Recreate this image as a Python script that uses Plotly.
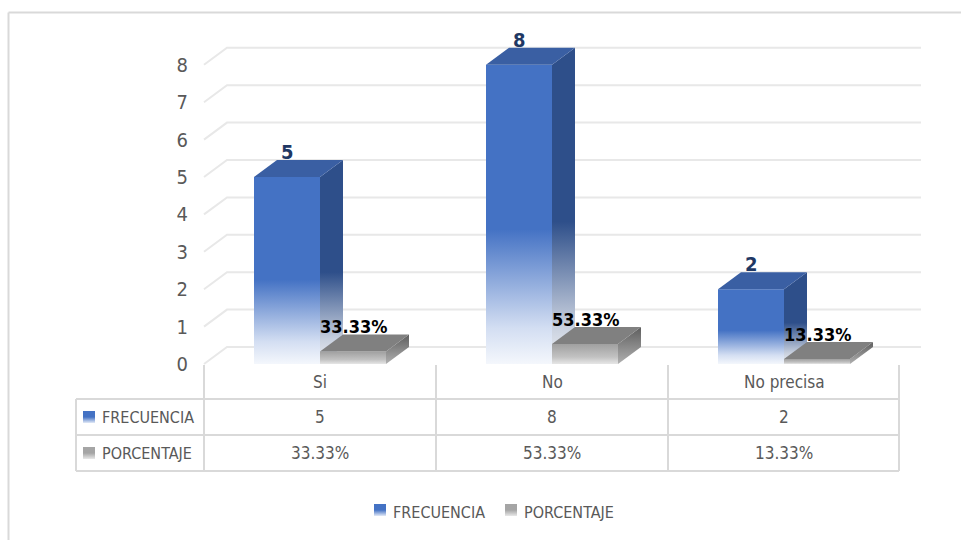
import plotly.graph_objects as go

# ---- data -------------------------------------------------------------
categorias = ["Si", "No", "No precisa"]
frecuencia = [5, 8, 2]
porcentaje = [0.3333, 0.5333, 0.1333]
porcentaje_txt = ["33.33%", "53.33%", "13.33%"]
series = ["FRECUENCIA", "PORCENTAJE"]
y_ticks = [0, 1, 2, 3, 4, 5, 6, 7, 8]

# ---- geometry ---------------------------------------------------------
W, H = 961, 540
X0_PX, CAT_PX = 204, 232      # left edge of the first category, category width (px)
Y0_PX, UNIT_PX = 364, 37.4    # baseline and pixels per unit on the front plane


def xd(px):
    return (px - X0_PX) / CAT_PX - 0.5


def yd(py):
    return (Y0_PX - py) / UNIT_PX


DX = 23 / CAT_PX      # depth offset of the 3-D box along x
DY = 17 / UNIT_PX     # depth offset of the 3-D box along y
BAR_W = 66 / CAT_PX   # width of one column

FONT = "Liberation Sans Narrow, DejaVu Sans Condensed, Arial Narrow, sans-serif"
GRID = "#e8e8e8"
TABLE = "#d9d9d9"
TXT = "#595959"

BLUE_FRONT = [[0, "#f4f7fc"], [0.12, "#d3def2"], [0.45, "#4472c4"], [1, "#4472c4"]]
BLUE_SIDE = [[0, "#f0f2f6"], [0.12, "#c8d0de"], [0.45, "#2e4f8a"], [1, "#2e4f8a"]]
BLUE_TOP = "#3a5fa3"
GRAY_FRONT = [[0, "#e6e6e6"], [0.35, "#c2c2c2"], [1, "#a0a0a0"]]
GRAY_SIDE = [[0, "#b0b0b0"], [1, "#5e5e5e"]]
GRAY_TOP = "#808080"

fig = go.Figure()


def poly(xs, ys, color=None, scale=None, lo=0.0, hi=1.0):
    tr = go.Scatter(
        x=list(xs) + [xs[0]], y=list(ys) + [ys[0]],
        mode="lines", fill="toself", line=dict(width=0),
        hoverinfo="skip", showlegend=False,
    )
    if scale is not None:
        tr.fillgradient = dict(type="vertical", colorscale=scale, start=lo, stop=hi)
    else:
        tr.fillcolor = color
    fig.add_trace(tr)


def box(x0, x1, v, front, side, top):
    poly([x1, x1 + DX, x1 + DX, x1], [0, DY, v + DY, v], scale=side, lo=0, hi=v + DY)
    poly([x0, x1, x1, x0], [0, 0, v, v], scale=front, lo=0, hi=v)
    poly([x0, x1, x1 + DX, x0 + DX], [v, v, v + DY, v + DY], color=top)


# ---- back wall gridlines and left wall ------------------------------
x_left = -0.5
x_right = xd(921)
for t in y_ticks:
    fig.add_trace(go.Scatter(
        x=[x_left, x_left + DX, x_right], y=[t, t + DY, t + DY],
        mode="lines", line=dict(color=GRID, width=2),
        hoverinfo="skip", showlegend=False,
    ))

# ---- columns ---------------------------------------------------------
for i, cat in enumerate(categorias):
    box(i - BAR_W, i, frecuencia[i], BLUE_FRONT, BLUE_SIDE, BLUE_TOP)
    box(i, i + BAR_W, porcentaje[i], GRAY_FRONT, GRAY_SIDE, GRAY_TOP)

# ---- data labels -----------------------------------------------------
for i, cat in enumerate(categorias):
    fig.add_annotation(
        x=i - BAR_W / 2, y=frecuencia[i] + DY, yshift=8,
        text=f"<b>{frecuencia[i]}</b>", showarrow=False, yanchor="middle",
        font=dict(family=FONT, size=20, color="#1f3864"),
    )
    fig.add_annotation(
        x=i + BAR_W / 2, y=porcentaje[i] + DY, yshift=8,
        text=f"<b>{porcentaje_txt[i]}</b>", showarrow=False, yanchor="middle",
        font=dict(family=FONT, size=18, color="#000000"),
    )

# ---- data table ------------------------------------------------------
t_top, r1, r2, t_bot = yd(365), yd(399), yd(435), yd(471)
t_left = xd(76)
col_edges = [xd(204), xd(436), xd(668), xd(899)]
line = dict(color=TABLE, width=2)
for xe in col_edges:
    fig.add_shape(type="line", x0=xe, x1=xe, y0=t_top, y1=t_bot, xref="x", yref="y", line=line)
fig.add_shape(type="line", x0=t_left, x1=t_left, y0=r1, y1=t_bot, xref="x", yref="y", line=line)
for ye in (r1, r2, t_bot):
    fig.add_shape(type="line", x0=t_left, x1=col_edges[-1], y0=ye, y1=ye, xref="x", yref="y", line=line)

cell_font = dict(family=FONT, size=17, color=TXT)
for i, cat in enumerate(categorias):
    fig.add_annotation(x=i, y=(t_top + r1) / 2, text=cat, showarrow=False, font=cell_font)
    fig.add_annotation(x=i, y=(r1 + r2) / 2, text=str(frecuencia[i]), showarrow=False, font=cell_font)
    fig.add_annotation(x=i, y=(r2 + t_bot) / 2, text=porcentaje_txt[i], showarrow=False, font=cell_font)


def key(px, py, scale):
    x0, x1 = xd(px), xd(px + 12)
    y0, y1 = yd(py + 12), yd(py)
    poly([x0, x1, x1, x0], [y0, y0, y1, y1], scale=scale, lo=y0, hi=y1)


KEY_BLUE = [[0, "#e3eaf7"], [0.5, "#4472c4"], [1, "#4472c4"]]
KEY_GRAY = [[0, "#e8e8e8"], [0.5, "#a5a5a5"], [1, "#a5a5a5"]]

row_font = dict(family=FONT, size=16, color=TXT)
key(83, 411, KEY_BLUE)
key(83, 447, KEY_GRAY)
fig.add_annotation(x=xd(100), y=(r1 + r2) / 2, text=series[0], showarrow=False,
                   xanchor="left", font=row_font)
fig.add_annotation(x=xd(100), y=(r2 + t_bot) / 2, text=series[1], showarrow=False,
                   xanchor="left", font=row_font)

# ---- legend ----------------------------------------------------------
key(374, 504, KEY_BLUE)
key(505, 504, KEY_GRAY)
fig.add_annotation(x=xd(391), y=yd(512), text=series[0], showarrow=False,
                   xanchor="left", font=row_font)
fig.add_annotation(x=xd(522), y=yd(512), text=series[1], showarrow=False,
                   xanchor="left", font=row_font)

# ---- chart border ----------------------------------------------------
fig.add_shape(type="line", xref="paper", yref="paper", x0=8.5 / W, x1=1, y0=1 - 12.5 / H, y1=1 - 12.5 / H,
              line=dict(color=TABLE, width=2))
fig.add_shape(type="line", xref="paper", yref="paper", x0=8.5 / W, x1=8.5 / W, y0=0, y1=1 - 12.5 / H,
              line=dict(color=TABLE, width=2))

fig.update_layout(
    width=W, height=H,
    margin=dict(l=0, r=0, t=0, b=0),
    paper_bgcolor="white", plot_bgcolor="white",
    showlegend=False,
    xaxis=dict(range=[xd(0), xd(W)], visible=False, fixedrange=True),
    yaxis=dict(
        range=[yd(H), yd(0)], anchor="free", position=188 / W,
        tickvals=y_ticks, ticktext=[str(t) for t in y_ticks],
        showgrid=False, zeroline=False, showline=False, ticks="",
        tickfont=dict(family=FONT, size=20, color=TXT),
        fixedrange=True,
    ),
)

fig.write_html("out.html")
